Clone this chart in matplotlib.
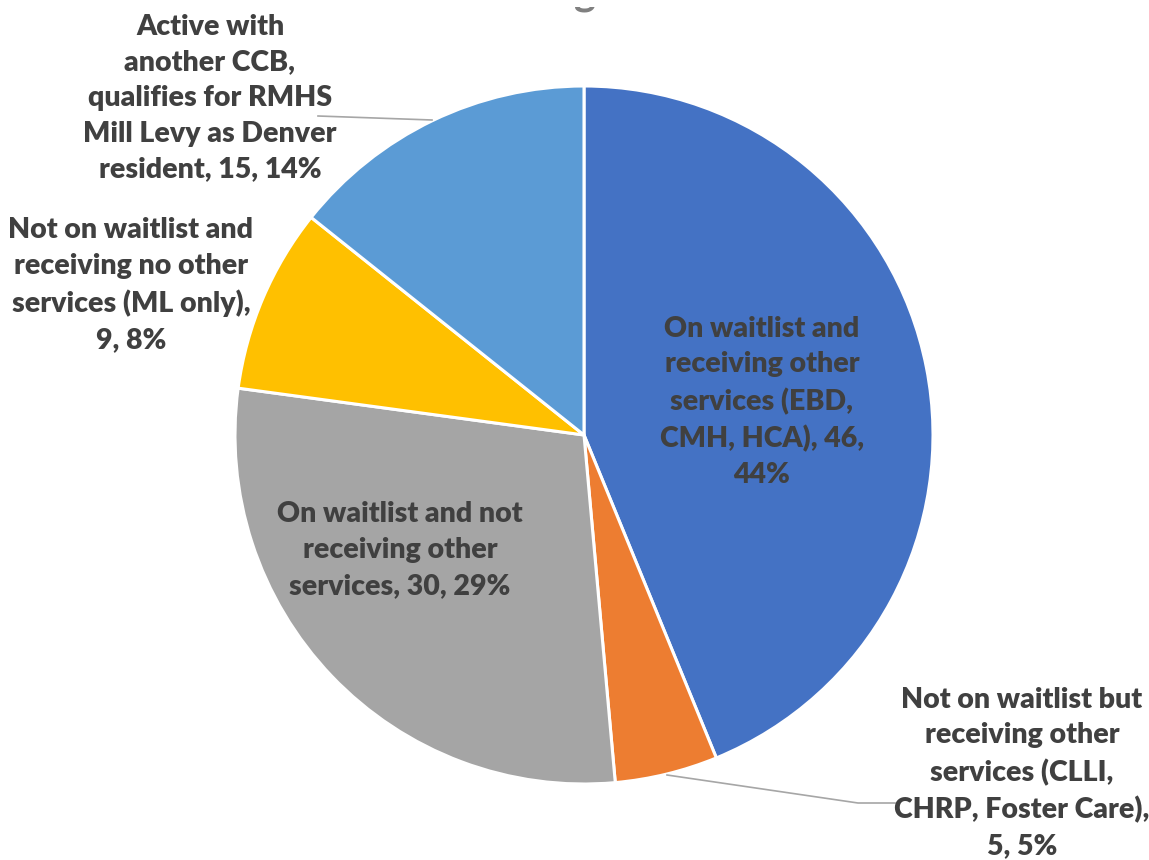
import matplotlib
matplotlib.use("Agg")
import matplotlib.pyplot as plt

# Slice data (clockwise from 12 o'clock)
categories = [
    "On waitlist and\nreceiving other\nservices (EBD,\nCMH, HCA)",
    "Not on waitlist but\nreceiving other\nservices (CLLI,\nCHRP, Foster Care)",
    "On waitlist and not\nreceiving other\nservices",
    "Not on waitlist and\nreceiving no other\nservices (ML only)",
    "Active with\nanother CCB,\nqualifies for RMHS\nMill Levy as Denver\nresident",
]
counts = [46, 5, 30, 9, 15]
percent_labels = ["44%", "5%", "29%", "8%", "14%"]
colors = ["#4472C4", "#ED7D31", "#A5A5A5", "#FFC000", "#5B9BD5"]

W, H = 1149, 860
fig = plt.figure(figsize=(W / 100, H / 100), dpi=100)
ax = fig.add_axes([0, 0, 1, 1])

cx, cy, r = 584, H - 435, 349
wedges, _ = ax.pie(
    counts, colors=colors, startangle=90, counterclock=False,
    center=(cx, cy), radius=r, frame=True,
    wedgeprops=dict(edgecolor="white", linewidth=2.2),
)
ax.set_xlim(0, W)
ax.set_ylim(0, H)
ax.set_aspect("equal")
ax.axis("off")

font = dict(family=["Lato", "DejaVu Sans"], fontweight="heavy", fontsize=20.5,
            color="#404040", ha="center", va="center", linespacing=1.46)

# how the count/percent tail joins each category label
joins = [(", ", ",\n"), (",\n", ", "), (", ", ", "), (",\n", ", "), (", ", ", ")]
labels = [f"{c}{a}{n}{b}{p}" for c, n, p, (a, b)
          in zip(categories, counts, percent_labels, joins)]

# label anchor points in pixels (x from left, y from top)
label_pos = [(762, 402), (1022, 773), (400, 550), (131, 285), (210, 98)]
for lab, (lx, ly) in zip(labels, label_pos):
    ax.text(lx, H - ly, lab, **font)

# leader lines for the outside labels
ax.plot([432, 318], [H - 120, H - 116], color="#A6A6A6", lw=1.2)
ax.plot([667, 858, 895], [H - 775, H - 803, H - 803], color="#A6A6A6", lw=1.2)

# chart title, only its lowest sliver shows inside a thin strip at the top
strip = fig.add_axes([0, (H - 13) / H, 1, 6 / H])
strip.set_xlim(0, W)
strip.set_ylim(H - 13, H - 7)
strip.axis("off")
strip.text(585, H - 4, "g", fontsize=30, color="#808080", ha="center",
           va="baseline", fontweight="bold", family="Lato", clip_on=True)

fig.savefig("out.png", dpi=100, facecolor="white")
